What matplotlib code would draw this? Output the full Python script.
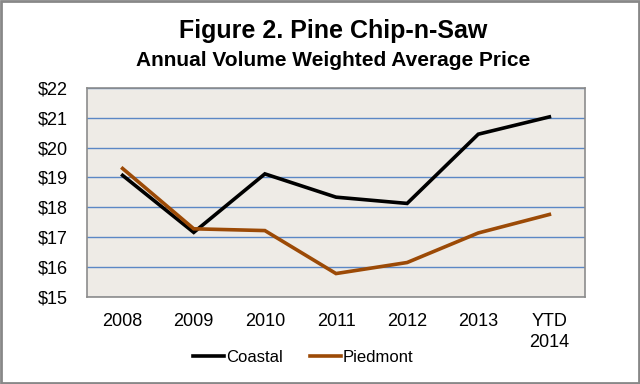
import matplotlib.pyplot as plt
from matplotlib.patches import Rectangle

plt.rcParams['font.family'] = ['Liberation Sans', 'DejaVu Sans']

years = ['2008', '2009', '2010', '2011', '2012', '2013', 'YTD\n2014']
coastal = [19.07, 17.16, 19.12, 18.34, 18.13, 20.45, 21.03]
piedmont = [19.30, 17.28, 17.22, 15.78, 16.15, 17.14, 17.76]

fig = plt.figure(figsize=(6.4, 3.84), dpi=100)
ax = fig.add_axes([0.136, 0.227, 0.778, 0.544])
ax.set_facecolor('#EEEBE6')

x = range(len(years))
ax.plot(x, coastal, color='black', lw=2.6, label='Coastal', solid_joinstyle='miter')
ax.plot(x, piedmont, color='#9C4A06', lw=2.6, label='Piedmont', solid_joinstyle='miter')

ax.set_ylim(15, 22)
ax.set_xlim(-0.5, 6.5)
ax.set_yticks(range(15, 23))
ax.set_yticklabels([f'${v}' for v in range(15, 23)], fontsize=13)
ax.set_xticks(list(x))
ax.set_xticklabels(years, fontsize=13, linespacing=1.25)
ax.tick_params(length=0)
ax.tick_params(axis='x', pad=12)
ax.tick_params(axis='y', pad=14)
ax.grid(axis='y', color='#5B87C5', lw=1)
ax.set_axisbelow(True)
for s in ax.spines.values():
    s.set_color('#8C8C8C')
    s.set_linewidth(1.2)

fig.text(0.52, 0.918, 'Figure 2. Pine Chip-n-Saw', ha='center', va='center',
         fontsize=18, fontweight='bold')
fig.text(0.52, 0.842, 'Annual Volume Weighted Average Price', ha='center', va='center',
         fontsize=15, fontweight='bold')

ax.legend(loc='center', bbox_to_anchor=(0.434, -0.29), ncol=2, frameon=False,
          fontsize=12, handlelength=1.9, handletextpad=0.1, columnspacing=1.6)

fig.patches.append(Rectangle((0.002, 0.003), 0.996, 0.994, transform=fig.transFigure,
                             fill=False, edgecolor='#888888', lw=2))

fig.savefig('out.png', dpi=100)
